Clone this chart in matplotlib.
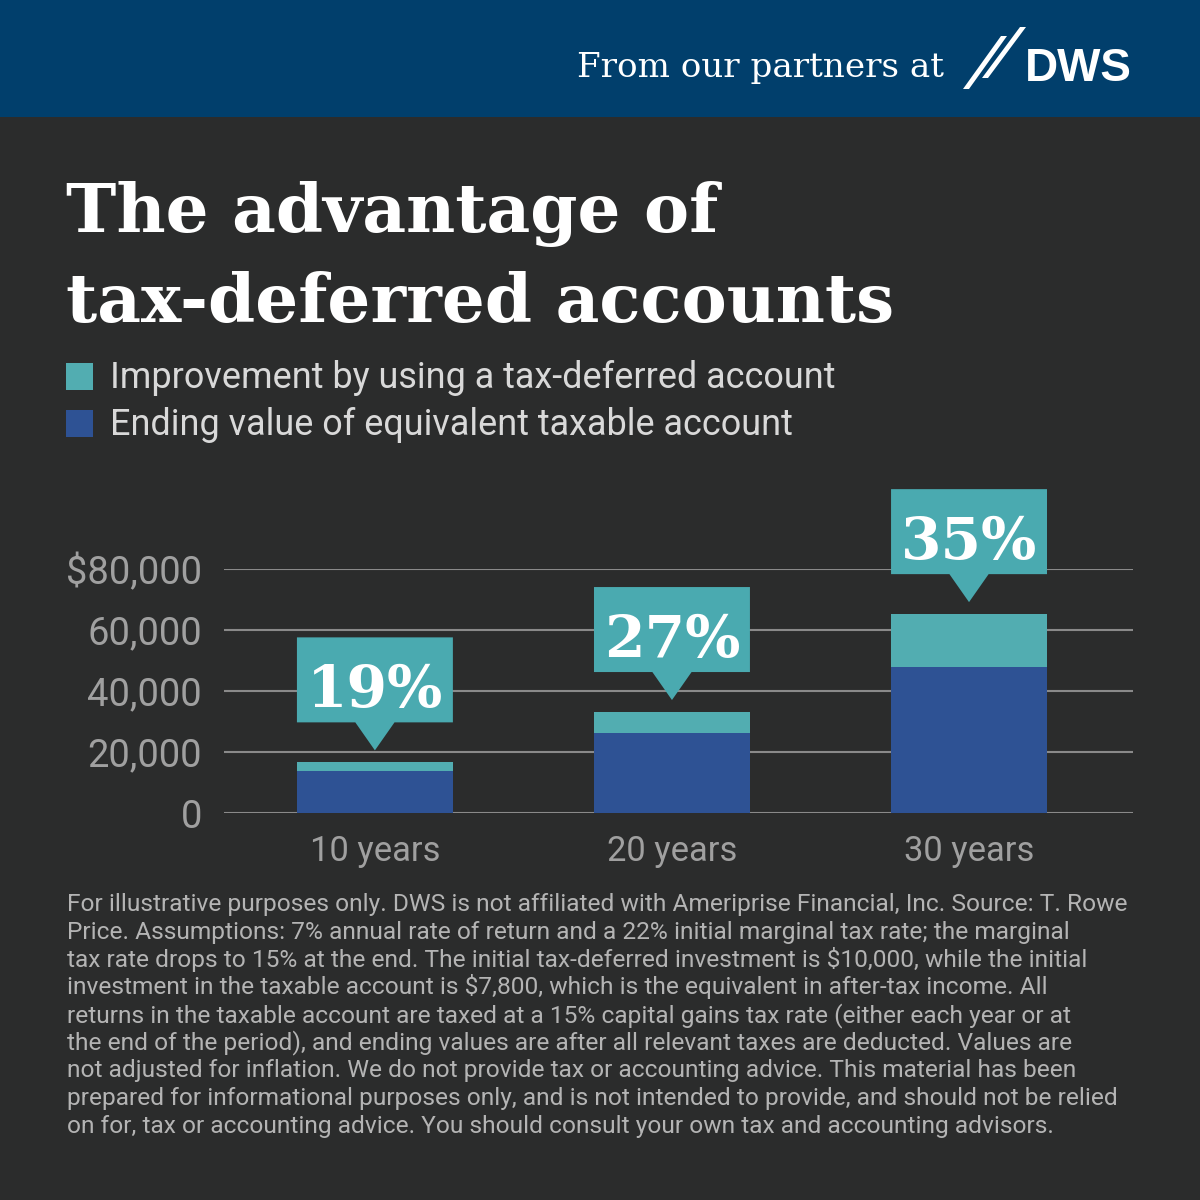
import numpy as np
import matplotlib
matplotlib.use('Agg')
from matplotlib import pyplot as plt
from matplotlib import font_manager as fm
from matplotlib.patches import Rectangle, Polygon

# data
years = ['10 years', '20 years', '30 years']
taxable = [13800, 26200, 47900]
improvement = [2800, 6900, 17300]
pct_labels = ['19%', '27%', '35%']
ytick_vals = [0, 20000, 40000, 60000, 80000]
ytick_labels = ['0', '20,000', '40,000', '60,000', '$80,000']
legend_labels = ['Improvement by using a tax-deferred account',
                 'Ending value of equivalent taxable account']
title_lines = ['The advantage of', 'tax-deferred accounts']
footnote = [
    'For illustrative purposes only. DWS is not affiliated with Ameriprise Financial, Inc. Source: T. Rowe',
    'Price. Assumptions: 7% annual rate of return and a 22% initial marginal tax rate; the marginal',
    'tax rate drops to 15% at the end. The initial tax-deferred investment is \\$10,000, while the initial',
    'investment in the taxable account is \\$7,800, which is the equivalent in after-tax income. All',
    'returns in the taxable account are taxed at a 15% capital gains tax rate (either each year or at',
    'the end of the period), and ending values are after all relevant taxes are deducted. Values are',
    'not adjusted for inflation. We do not provide tax or accounting advice. This material has been',
    'prepared for informational purposes only, and is not intended to provide, and should not be relied',
    'on for, tax or accounting advice. You should consult your own tax and accounting advisors.',
]

bg = '#2b2c2c'
band = '#013f6c'
teal = '#52adb1'
callout = '#4aaab0'
blue = '#2e5294'
grid_c = '#8a8a8a'
tick_c = '#a0a0a0'
foot_c = '#b4b4b4'
legend_c = '#d9d9d9'


def pick(names, weight='normal'):
    for n in names:
        try:
            fm.findfont(fm.FontProperties(family=n, weight=weight), fallback_to_default=False)
            return n
        except ValueError:
            pass
    return names[-1]


serif_bold = pick(['DejaVu Serif Condensed', 'DejaVu Serif'], 'bold')
serif = pick(['DejaVu Serif'])
sans = pick(['Roboto', 'Liberation Sans'])
foot_font = pick(['Liberation Sans Narrow', 'Roboto'])
logo_font = pick(['Liberation Sans', 'Roboto'], 'bold')

W = 1200
fig = plt.figure(figsize=(12, 12), dpi=100, facecolor=bg)
renderer = fig.canvas.get_renderer()


def P(x, y):
    # pixel (from top-left) -> figure fraction
    return x / W, 1 - y / W


def fit_size(s, target_px, **kw):
    t = fig.text(0, 0, s, fontsize=20, **kw)
    w = t.get_window_extent(renderer=renderer).width
    t.remove()
    return 20 * target_px / w


# header band
fig.patches.append(Rectangle(P(0, 117), 1, 117 / W, transform=fig.transFigure,
                             facecolor=band, edgecolor='none', zorder=0))
fs = fit_size('From our partners at', 365, family=serif)
fig.text(*P(577, 77), 'From our partners at', fontsize=fs, family=serif,
         color='white', va='baseline', ha='left')
for (x0, y0), (x1, y1) in [((963, 89), (1001, 36)), ((982, 78), (1020, 27))]:
    pts = [P(x0, y0), P(x0 + 6, y0), P(x1 + 6, y1), P(x1, y1)]
    fig.patches.append(Polygon(pts, closed=True, transform=fig.transFigure,
                               facecolor='white', edgecolor='none'))
fs = fit_size('DWS', 107, family=logo_font, weight='bold')
fig.text(*P(1025, 81), 'DWS', fontsize=fs, family=logo_font, weight='bold',
         color='white', va='baseline', ha='left')

# title
fs = fit_size(title_lines[1], 830, family=serif_bold, weight='bold')
for i, line in enumerate(title_lines):
    fig.text(*P(66, 232 + 90 * i), line, fontsize=fs, family=serif_bold,
             weight='bold', color='white', va='baseline', ha='left')

# legend
fs = fit_size(legend_labels[0], 722, family=sans)
for i, (lab, col) in enumerate(zip(legend_labels, [teal, blue])):
    y = 363 + 47 * i
    fig.patches.append(Rectangle(P(66, y + 27), 27 / W, 27 / W, transform=fig.transFigure,
                                 facecolor=col, edgecolor='none'))
    fig.text(*P(110, y + 25), lab, fontsize=fs, family=sans, color=legend_c,
             va='baseline', ha='left')

# chart
ax = fig.add_axes([224 / W, 1 - 813 / W, 909 / W, 244 / W])
ax.set_facecolor(bg)
x = np.arange(len(years))
bw = 0.525
ax.bar(x, taxable, width=bw, color=blue, zorder=2)
totals = np.array(taxable) + np.array(improvement)
ax.bar(x, improvement, width=bw, bottom=taxable, color=teal, zorder=2)
ax.set_xlim(-0.508, 2.552)
ax.set_ylim(0, 80000)
ax.set_yticks(ytick_vals)
ax.set_xticks(x)
for s in ax.spines.values():
    s.set_visible(False)
ax.yaxis.grid(True, color=grid_c, linewidth=1.5)
ax.set_axisbelow(True)

yfs = fit_size('$80,000', 136, family=sans)
xfs = fit_size(years[0], 130, family=sans)
ax.set_yticklabels(ytick_labels, fontsize=yfs, family=sans, color=tick_c)
ax.set_xticklabels(years, fontsize=xfs, family=sans, color=tick_c)
ax.tick_params(axis='y', length=0, pad=16)
ax.tick_params(axis='x', length=0, pad=16)

# callouts above each bar
px = 1000 / 3.05  # data units per pixel in y
gap, tip_h, box_h, tip_w = 12 * px, 28 * px, 85 * px, 0.066
pfs = fit_size('19%', 136, family=serif_bold, weight='bold')
for xi, tot, lab in zip(x, totals, pct_labels):
    tip = tot + gap
    b0 = tip + tip_h
    ax.add_patch(Polygon([(xi - bw / 2, b0), (xi - tip_w, b0), (xi, tip), (xi + tip_w, b0),
                          (xi + bw / 2, b0), (xi + bw / 2, b0 + box_h), (xi - bw / 2, b0 + box_h)],
                         closed=True, facecolor=callout, edgecolor='none', clip_on=False, zorder=3))
    ax.text(xi, b0 + 15 * px, lab, fontsize=pfs, family=serif_bold, weight='bold',
            color='white', ha='center', va='baseline', zorder=4, clip_on=False)

# footnote
ffs = fit_size(footnote[0], 1057, family=foot_font)
for i, line in enumerate(footnote):
    fig.text(*P(67, 911 + 27.75 * i), line, fontsize=ffs, family=foot_font,
             color=foot_c, va='baseline', ha='left')

fig.savefig('out.png', dpi=100, facecolor=bg)
